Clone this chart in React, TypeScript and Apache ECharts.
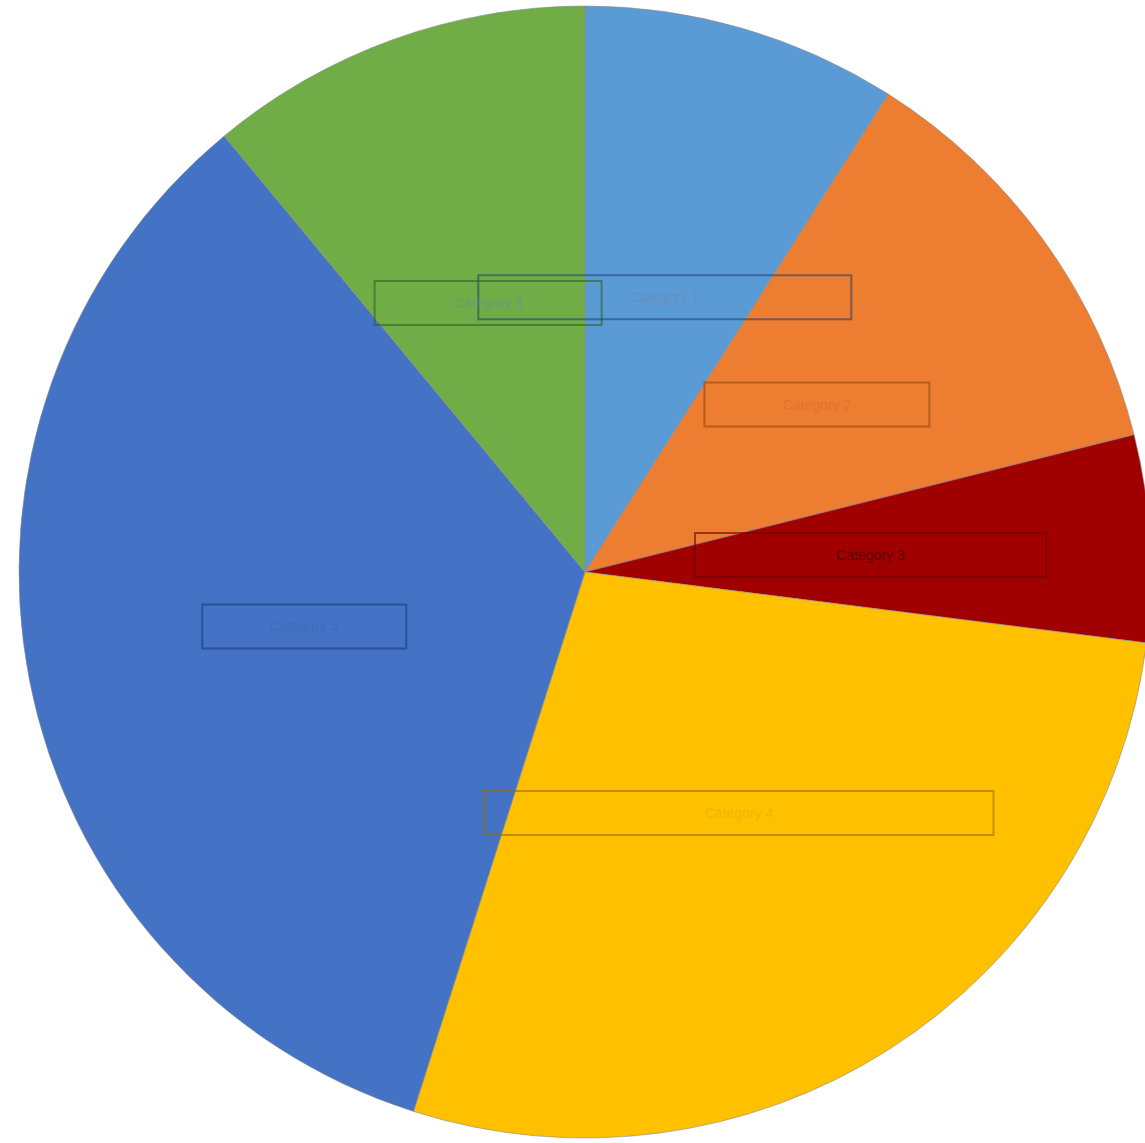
import React, { useEffect, useRef } from "react";
import * as echarts from "echarts";

const categories = ["Category 1", "Category 2", "Category 3", "Category 4", "Category 5", "Category 6"];
const values = [9.0, 12.1, 5.9, 27.9, 34.1, 11.0];

const colors = ["#5B9BD5", "#ED7D31", "#A00000", "#FFC000", "#4472C4", "#70AD47"];
const labelWidths = [373, 225, 351, 509, 204, 227];
const textColors = ["rgba(120,120,120,0.3)", "rgba(160,80,20,0.2)", "rgba(60,0,0,0.75)", "rgba(150,110,0,0.15)", "rgba(40,70,130,0.15)", "rgba(90,140,190,0.45)"];
const borderColors = ["rgba(30,60,110,0.55)", "rgba(150,70,10,0.6)", "rgba(110,0,0,0.6)", "rgba(150,110,0,0.6)", "rgba(30,60,120,0.6)", "rgba(50,100,30,0.6)"];

export default function App() {
  const ref = useRef<HTMLDivElement>(null);
  useEffect(() => {
    if (!ref.current) return;
    const chart = echarts.init(ref.current, undefined, { renderer: "svg" });
    const data = categories.map((name, i) => ({
      name,
      value: values[i],
      itemStyle: { color: colors[i] },
      label: {
        width: labelWidths[i],
        height: 44,
        lineHeight: 44,
        color: textColors[i],
        borderColor: borderColors[i],
      },
    }));
    chart.setOption({
      animation: false,
      backgroundColor: "#ffffff",
      series: [
        {
          type: "pie",
          center: [585, 572],
          radius: 566,
          startAngle: 90,
          clockwise: true,
          itemStyle: { borderColor: "rgba(140,140,140,0.6)", borderWidth: 1 },
          label: {
            show: true,
            position: "inside",
            formatter: "{b}",
            fontSize: 14,
            fontFamily: "Liberation Sans",
            borderWidth: 2,
            align: "center",
          },
          labelLayout: { hideOverlap: false },
          labelLine: { show: false },
          emphasis: { disabled: true },
          data,
        },
      ],
    });
    return () => chart.dispose();
  }, []);
  return <div ref={ref} style={{ position: "absolute", left: 0, top: 0, width: 1145, height: 1143 }} />;
}
